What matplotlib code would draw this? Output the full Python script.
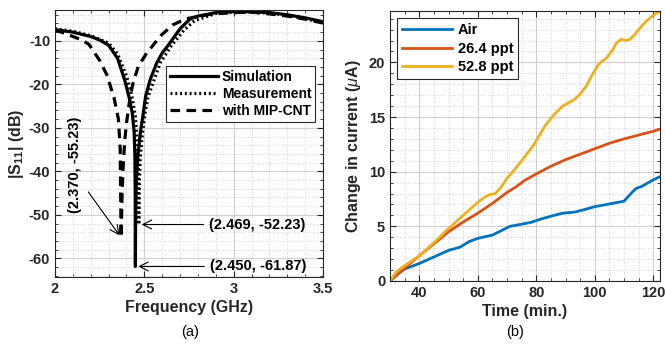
import matplotlib
matplotlib.use("Agg")
import matplotlib.pyplot as plt
from matplotlib.ticker import MultipleLocator

plt.rcParams['font.family'] = ['Liberation Sans', 'DejaVu Sans']
plt.rcParams['axes.unicode_minus'] = False
plt.rcParams['mathtext.fontset'] = 'custom'
plt.rcParams['mathtext.rm'] = 'Liberation Sans:bold'
plt.rcParams['mathtext.it'] = 'Liberation Sans:italic'
plt.rcParams['mathtext.bf'] = 'Liberation Sans:bold'

# ---------------- (a) S11 data ----------------
f_sim = [2.00, 2.10, 2.20, 2.25, 2.30, 2.35, 2.39, 2.415, 2.433, 2.443, 2.447, 2.449, 2.450,
         2.451, 2.455, 2.465, 2.478, 2.494, 2.507, 2.532, 2.569, 2.60, 2.634, 2.70, 2.755,
         2.80, 2.90, 3.00, 3.10, 3.20, 3.30, 3.40, 3.50]
s_sim = [-7.4, -8.0, -9.0, -9.8, -11.0, -14.0, -19.0, -23.0, -26.7, -31.0, -36.0, -45.0, -61.87,
         -52.0, -42.0, -36.0, -31.0, -26.7, -22.8, -19.0, -15.1, -12.8, -11.0, -7.2, -5.0,
         -4.3, -3.5, -3.3, -3.3, -3.5, -4.0, -4.7, -5.6]

f_meas = [2.00, 2.10, 2.20, 2.30, 2.35, 2.40, 2.43, 2.45, 2.462, 2.467, 2.469,
          2.471, 2.477, 2.49, 2.505, 2.52, 2.55, 2.59, 2.65, 2.72, 2.78, 2.90, 3.00,
          3.10, 3.20, 3.30, 3.40, 3.50]
s_meas = [-7.2, -7.8, -8.8, -10.5, -13.0, -18.0, -22.5, -27.5, -34.0, -42.0, -52.23,
          -44.0, -37.0, -31.0, -26.5, -23.0, -19.5, -15.0, -11.2, -7.6, -5.4, -3.7, -3.4,
          -3.4, -3.6, -4.1, -4.9, -5.9]

f_cnt = [2.00, 2.05, 2.10, 2.15, 2.19, 2.25, 2.29, 2.33, 2.355, 2.365, 2.370,
         2.375, 2.38, 2.39, 2.40, 2.42, 2.437, 2.466, 2.513, 2.597, 2.66, 2.735, 2.88,
         3.00, 3.10, 3.20, 3.30, 3.40, 3.50]
s_cnt = [-7.5, -8.2, -9.0, -9.8, -10.8, -14.5, -17.8, -23.0, -28.0, -35.0, -55.23,
         -46.0, -40.0, -33.0, -29.0, -23.0, -19.7, -15.9, -12.8, -8.6, -6.3, -4.9, -3.8,
         -3.5, -3.4, -3.8, -4.3, -5.0, -5.9]

legend_a = ['Simulation', 'Measurement', 'with MIP-CNT']

# ---------------- (b) current data ----------------
t_air = [30, 33, 35, 37, 40, 45, 50, 54, 57, 60, 65, 68, 71, 74, 78, 82, 86, 89, 93, 96,
         100, 103, 106, 110, 112, 114, 116, 118, 120, 122.3]
i_air = [0, 0.7, 1.1, 1.3, 1.6, 2.2, 2.8, 3.1, 3.6, 3.9, 4.2, 4.6, 5.0, 5.15, 5.35, 5.7,
         6.0, 6.2, 6.3, 6.5, 6.8, 6.95, 7.1, 7.3, 7.9, 8.45, 8.65, 8.95, 9.25, 9.55]

t_264 = [30, 35, 40, 45, 50, 55, 60, 65, 70, 73, 76, 80, 85, 90, 95, 100, 105, 110, 115,
         120, 122.3]
i_264 = [0, 1.2, 2.3, 3.4, 4.5, 5.4, 6.2, 7.1, 8.1, 8.6, 9.2, 9.8, 10.5, 11.1, 11.6, 12.1,
         12.6, 13.0, 13.35, 13.7, 13.9]

t_528 = [30, 32, 35, 40, 45, 50, 55, 60, 62, 64, 66, 68, 70, 72, 75, 79, 83, 86, 89, 91,
         93, 95, 97, 99, 101, 102, 104, 106, 107.5, 109, 110.5, 112, 113.5, 115, 117, 119,
         120.5, 122.3]
i_528 = [0, 0.8, 1.4, 2.3, 3.5, 4.8, 6.0, 7.2, 7.6, 7.9, 8.0, 8.6, 9.4, 10.0, 11.0, 12.4,
         14.2, 15.2, 16.0, 16.3, 16.6, 17.1, 17.8, 18.8, 19.7, 20.0, 20.4, 21.1, 21.8, 22.1,
         22.0, 22.1, 22.5, 23.0, 23.6, 24.1, 24.4, 24.7]

legend_b = ['Air', '26.4 ppt', '52.8 ppt']
colors_b = ['#0072BD', '#D95319', '#EDB120']

fig = plt.figure(figsize=(6.65, 3.5), dpi=100)
axA = fig.add_axes([55/665, 73/350, 268/665, 267/350])
axB = fig.add_axes([390/665, 69/350, 270/665, 270/350])

grey = '#262626'

def style(ax):
    ax.grid(True, which='major', color='#d0d0d0', linewidth=0.8)
    ax.grid(True, which='minor', color='#c8c8c8', linestyle=(0, (1, 2)), linewidth=0.6)
    ax.set_axisbelow(True)
    ax.tick_params(which='both', direction='in', top=True, right=True, colors=grey,
                   labelsize=10.5)
    ax.tick_params(which='major', length=4)
    ax.tick_params(which='minor', length=2)
    for s in ax.spines.values():
        s.set_color(grey)
        s.set_linewidth(0.8)
    for lab in ax.get_xticklabels() + ax.get_yticklabels():
        lab.set_fontweight('bold')

# (a)
axA.plot(f_sim, s_sim, color='black', linewidth=2.3, linestyle='-', label=legend_a[0])
axA.plot(f_meas, s_meas, color='black', linewidth=2.3, linestyle=(0, (0.6, 0.9)), label=legend_a[1])
axA.plot(f_cnt, s_cnt, color='black', linewidth=2.3, linestyle=(0, (3, 2)), label=legend_a[2])
axA.set_xlim(2, 3.5)
axA.set_ylim(-64.3, -2.9)
axA.set_xticks([2, 2.5, 3, 3.5])
axA.set_xticklabels(['2', '2.5', '3', '3.5'])
axA.set_yticks([-60, -50, -40, -30, -20, -10])
axA.xaxis.set_minor_locator(MultipleLocator(0.1))
axA.yaxis.set_minor_locator(MultipleLocator(2))
style(axA)
axA.set_xlabel('Frequency (GHz)', fontsize=11.5, fontweight='bold', color=grey, labelpad=3)
axA.set_ylabel(r'|S$_{11}$| (dB)', fontsize=11.5, fontweight='bold', color=grey, labelpad=2)
legA = axA.legend(loc='upper right', bbox_to_anchor=(0.972, 0.79),
                  prop={'weight': 'bold', 'size': 10}, handlelength=3.4, fancybox=False,
                  edgecolor=grey, framealpha=1, borderpad=0.3, labelspacing=0.2,
                  handletextpad=0.3, borderaxespad=0)
legA.get_frame().set_linewidth(0.8)

arrow = dict(arrowstyle='->', color='black', lw=0.8, mutation_scale=16)
axA.annotate('(2.469, -52.23)', xy=(2.469, -52.23), xytext=(2.862, -52.23),
             ha='left', va='center', fontsize=10.5, fontweight='bold', arrowprops=arrow)
axA.annotate('(2.450, -61.87)', xy=(2.450, -61.87), xytext=(2.866, -61.87),
             ha='left', va='center', fontsize=10.5, fontweight='bold', arrowprops=arrow)
axA.annotate('', xy=(2.370, -55.23), xytext=(2.177, -44.2), arrowprops=arrow)
axA.text(2.112, -38.6, '(2.370, -55.23)', rotation=90, ha='center', va='center',
         fontsize=10.5, fontweight='bold')

# (b)
for t, i, lab, c in zip([t_air, t_264, t_528], [i_air, i_264, i_528], legend_b, colors_b):
    axB.plot(t, i, color=c, linewidth=2, label=lab)
axB.set_xlim(30, 122.3)
axB.set_ylim(0, 24.7)
axB.set_xticks([40, 60, 80, 100, 120])
axB.set_yticks([0, 5, 10, 15, 20])
axB.xaxis.set_minor_locator(MultipleLocator(5))
axB.yaxis.set_minor_locator(MultipleLocator(1))
style(axB)
axB.set_xlabel('Time (min.)', fontsize=11.5, fontweight='bold', color=grey, labelpad=3)
axB.set_ylabel(r'Change in current ($\mu$A)', fontsize=11.5, fontweight='bold', color=grey,
               labelpad=4)
legB = axB.legend(loc='upper left', prop={'weight': 'bold', 'size': 10.5}, handlelength=3.4,
                  fancybox=False, edgecolor=grey, framealpha=1, borderpad=0.35,
                  labelspacing=0.3, handletextpad=0.4, borderaxespad=0.5)
legB.get_frame().set_linewidth(0.8)

fig.text(190/665, 1 - 332/350, '(a)', ha='center', va='center', fontsize=10.5)
fig.text(515/665, 1 - 332/350, '(b)', ha='center', va='center', fontsize=10.5)

fig.savefig('out.png', dpi=100)
